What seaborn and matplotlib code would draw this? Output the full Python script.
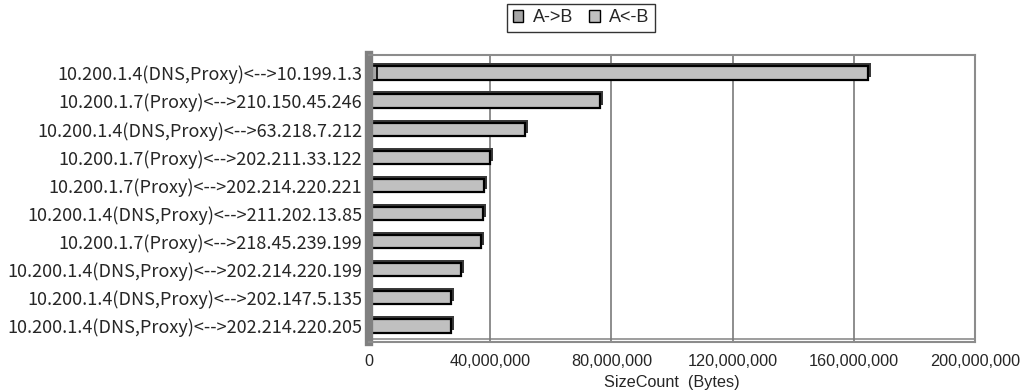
import matplotlib
matplotlib.use("Agg")
import matplotlib.pyplot as plt
import matplotlib.patheffects as pe
from matplotlib.patches import Patch
from matplotlib.ticker import FuncFormatter, FixedLocator
import seaborn as sns
import pandas as pd

# Top-10 host pairs by transferred bytes
pairs = [
    "10.200.1.4(DNS,Proxy)<-->10.199.1.3",
    "10.200.1.7(Proxy)<-->210.150.45.246",
    "10.200.1.4(DNS,Proxy)<-->63.218.7.212",
    "10.200.1.7(Proxy)<-->202.211.33.122",
    "10.200.1.7(Proxy)<-->202.214.220.221",
    "10.200.1.4(DNS,Proxy)<-->211.202.13.85",
    "10.200.1.7(Proxy)<-->218.45.239.199",
    "10.200.1.4(DNS,Proxy)<-->202.214.220.199",
    "10.200.1.4(DNS,Proxy)<-->202.147.5.135",
    "10.200.1.4(DNS,Proxy)<-->202.214.220.205",
]
a_to_b = [2.6e6, 1.0e6, 0.3e6, 0.3e6, 0.3e6, 0.3e6, 0.3e6, 0.3e6, 0.3e6, 0.3e6]
a_from_b = [162.0e6, 75.2e6, 51.2e6, 39.6e6, 37.7e6, 37.3e6, 36.7e6, 30.1e6, 26.8e6, 26.7e6]
x_ticks = [0, 40e6, 80e6, 120e6, 160e6, 200e6]

df = pd.DataFrame({"pair": pairs, "A->B": a_to_b, "A<-B": a_from_b})
df["total"] = df["A->B"] + df["A<-B"]

sns.set_theme(style="white")
plt.rcParams["font.family"] = ["Liberation Sans", "DejaVu Sans"]

fig = plt.figure(figsize=(10.21, 3.92), dpi=100)
ax = fig.add_axes([369 / 1021, 1 - 342 / 392, 606 / 1021, (342 - 55) / 392])

col_ab = "#a6a6a6"
col_ba = "#c0c0c0"

# stacked bars: full total first, then the A->B segment on the left
sns.barplot(data=df, y="pair", x="total", orient="h", color=col_ba,
            saturation=1, width=0.47, edgecolor="black", linewidth=1.6, ax=ax)
for p in ax.patches:
    p.set_path_effects([
        pe.SimplePatchShadow(offset=(2.2, 2.2), shadow_rgbFace="#3a3a3a", alpha=1.0),
        pe.Normal(),
    ])
sns.barplot(data=df, y="pair", x="A->B", orient="h", color=col_ab,
            saturation=1, width=0.47, edgecolor="black", linewidth=1.2, ax=ax)

ax.set_xlim(0, 200e6)
ax.set_ylim(len(pairs) - 1 + 0.57, -0.64)
ax.xaxis.set_major_locator(FixedLocator(x_ticks))
ax.xaxis.set_major_formatter(FuncFormatter(lambda v, _: f"{int(v):,}"))
ax.grid(axis="x", color="#7a7a7a", linewidth=1.2)
ax.grid(axis="y", visible=False)
ax.set_axisbelow(True)

ax.tick_params(axis="x", length=0, pad=9, labelsize=11.7)
ax.tick_params(axis="y", length=0, pad=5)
for lbl in ax.get_yticklabels():
    lbl.set_fontfamily(["Noto Sans CJK JP", "DejaVu Sans"])
    lbl.set_fontsize(13)

ax.set_ylabel("")
ax.set_xlabel("SizeCount  (Bytes)", fontsize=11.7, labelpad=4)

for side in ("top", "right", "bottom"):
    ax.spines[side].set_color("#8c8c8c")
    ax.spines[side].set_linewidth(1.5)
ax.spines["left"].set_color("#808080")
ax.spines["left"].set_linewidth(6)

# back edge of the floor
ax.axhline(len(pairs) - 1 + 0.45, color="#8c8c8c", linewidth=1.2, zorder=0.5)

handles = [
    Patch(facecolor=col_ab, edgecolor="black", linewidth=1, label="A->B"),
    Patch(facecolor=col_ba, edgecolor="black", linewidth=1, label="A<-B"),
]
leg = fig.legend(handles=handles, loc="center", bbox_to_anchor=(581 / 1021, 1 - 18 / 392),
                 ncol=2, frameon=True, fancybox=False, fontsize=13,
                 handlelength=0.6, handleheight=0.6, handletextpad=0.5,
                 columnspacing=0.9, borderpad=0.3)
leg.get_frame().set_edgecolor("black")
leg.get_frame().set_linewidth(1.0)

fig.savefig("out.png", dpi=100)
